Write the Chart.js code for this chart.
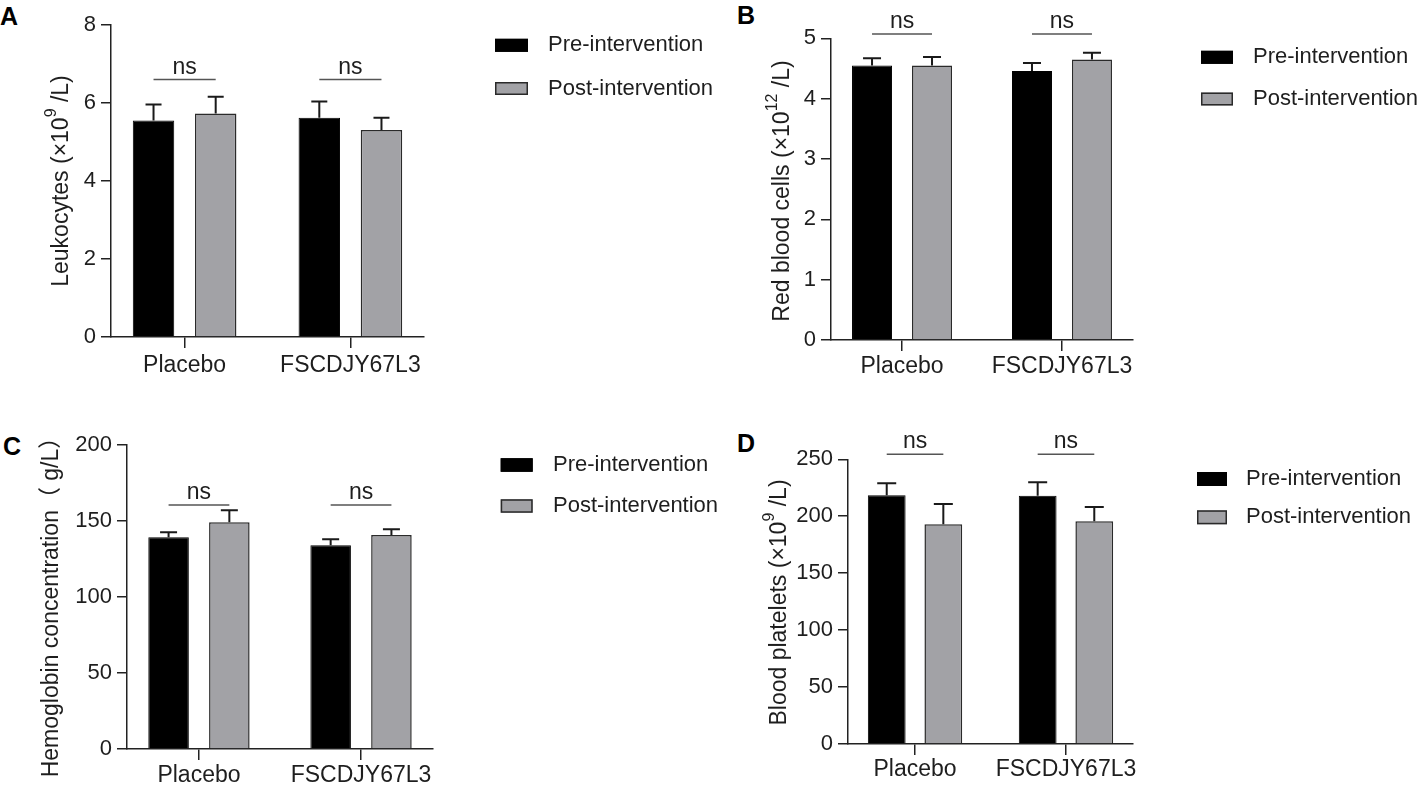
<!DOCTYPE html>
<html><head><meta charset="utf-8">
<script src="https://cdn.jsdelivr.net/npm/chart.js@4.4.1/dist/chart.umd.min.js"></script>
<style>
html,body{margin:0;padding:0;background:#fff;width:1418px;height:791px;overflow:hidden;}
canvas{position:absolute;}
.lt{position:absolute;font:bold 25px "Liberation Sans",Arial,sans-serif;line-height:25px;color:#000;}
</style></head><body>
<div class="lt" style="left:0px;top:4px">A</div>
<div class="lt" style="left:737px;top:3px">B</div>
<div class="lt" style="left:3px;top:434px">C</div>
<div class="lt" style="left:737px;top:431px">D</div>
<canvas id="cA" width="735" height="410" style="left:0px;top:0px"></canvas>
<canvas id="cB" width="683" height="410" style="left:735px;top:0px"></canvas>
<canvas id="cC" width="735" height="381" style="left:0px;top:410px"></canvas>
<canvas id="cD" width="683" height="381" style="left:735px;top:410px"></canvas>
<script>
// ---- data ----
const categories = ['Placebo', 'FSCDJY67L3'];
const seriesNames = ['Pre-intervention', 'Post-intervention'];

const leukoPre = [5.55, 5.62];
const leukoPreSD = [0.41, 0.42];
const leukoPost = [5.73, 5.31];
const leukoPostSD = [0.43, 0.31];
const leukoTicks = [0, 2, 4, 6, 8];

const rbcPre = [4.55, 4.46];
const rbcPreSD = [0.12, 0.13];
const rbcPost = [4.55, 4.65];
const rbcPostSD = [0.14, 0.11];
const rbcTicks = [0, 1, 2, 3, 4, 5];

const hbPre = [139.3, 134.0];
const hbPreSD = [3.3, 4.0];
const hbPost = [149.1, 140.8];
const hbPostSD = [7.9, 3.7];
const hbTicks = [0, 50, 100, 150, 200];

const pltPre = [218.4, 218.0];
const pltPreSD = [10.5, 11.8];
const pltPost = [192.9, 195.6];
const pltPostSD = [17.8, 12.5];
const pltTicks = [0, 50, 100, 150, 200, 250];

const yTitles = ['Leukocytes (×10⁹ /L)', 'Red blood cells (×10¹² /L)', 'Hemoglobin concentration（ g/L）', 'Blood platelets (×10⁹ /L)'];
const nsLabels = ['ns', 'ns'];
const nsLevels = [6.6, 5.07, 160.5, 254.5];

// ---- styling ----
const FONT = '"Liberation Sans", Arial, "Noto Sans CJK SC", sans-serif';
const TXT = '#1e1e1e';
const GRAY = '#a2a2a6';
const SUP = {'⁰':'0','¹':'1','²':'2','³':'3','⁴':'4','⁵':'5','⁶':'6','⁷':'7','⁸':'8','⁹':'9'};

function splitSup(text) {
  const segs = [];
  for (const ch of text) {
    const sup = ch in SUP;
    const c = sup ? SUP[ch] : ch;
    if (segs.length && segs[segs.length - 1].sup === sup) segs[segs.length - 1].t += c;
    else segs.push({t: c, sup});
  }
  return segs;
}

const annot = {
  id: 'annot',
  afterDatasetsDraw(chart, args, o) {
    const ctx = chart.ctx, ys = chart.scales.y;
    ctx.save();
    // error bars (upper only)
    chart.data.datasets.forEach((ds, d) => {
      const meta = chart.getDatasetMeta(d);
      meta.data.forEach((bar, i) => {
        const top = ys.getPixelForValue(ds.data[i] + ds.errors[i]);
        ctx.strokeStyle = '#1a1a1a';
        ctx.lineWidth = 2;
        ctx.beginPath();
        ctx.moveTo(bar.x, bar.y);
        ctx.lineTo(bar.x, top);
        ctx.moveTo(bar.x - o.cap / 2, top);
        ctx.lineTo(bar.x + o.cap / 2, top);
        ctx.stroke();
      });
    });
    // ns brackets
    const m0 = chart.getDatasetMeta(0), m1 = chart.getDatasetMeta(1);
    const ny = ys.getPixelForValue(o.ns);
    ctx.font = '23px ' + FONT;
    ctx.fillStyle = TXT;
    ctx.textAlign = 'center';
    ctx.textBaseline = 'alphabetic';
    for (let i = 0; i < categories.length; i++) {
      const x1 = m0.data[i].x, x2 = m1.data[i].x;
      ctx.strokeStyle = '#555';
      ctx.lineWidth = 1.5;
      ctx.beginPath();
      ctx.moveTo(x1, ny);
      ctx.lineTo(x2, ny);
      ctx.stroke();
      ctx.fillText(nsLabels[i], (x1 + x2) / 2, ny - 6);
    }
    ctx.restore();
  },
  afterDraw(chart, args, o) {
    const ctx = chart.ctx;
    ctx.save();
    // y axis title (with real superscripts)
    ctx.translate(o.titleX, o.titleY);
    ctx.rotate(-Math.PI / 2);
    ctx.fillStyle = TXT;
    ctx.textAlign = 'left';
    ctx.textBaseline = 'alphabetic';
    const segs = splitSup(o.title);
    const mainF = '23px ' + FONT, supF = '16px ' + FONT;
    let total = 0;
    segs.forEach(s => { ctx.font = s.sup ? supF : mainF; s.w = ctx.measureText(s.t).width; total += s.w; });
    let x = -total / 2;
    segs.forEach(s => {
      ctx.font = s.sup ? supF : mainF;
      ctx.fillText(s.t, x, s.sup ? -4 : 8);
      x += s.w;
    });
    ctx.restore();
    // legend
    ctx.save();
    const lg = o.legend;
    chart.data.datasets.forEach((ds, d) => {
      const cy = lg.rows[d];
      ctx.fillStyle = ds.backgroundColor;
      ctx.fillRect(lg.box, cy - lg.h / 2, lg.w, lg.h);
      ctx.strokeStyle = ds.borderColor;
      ctx.lineWidth = 1.5;
      ctx.strokeRect(lg.box + 0.75, cy - lg.h / 2 + 0.75, lg.w - 1.5, lg.h - 1.5);
      ctx.font = '22px ' + FONT;
      ctx.fillStyle = TXT;
      ctx.textAlign = 'left';
      ctx.textBaseline = 'middle';
      ctx.fillText(ds.label, lg.text, cy);
    });
    ctx.restore();
  }
};

const panels = [
  {id: 'cA', title: yTitles[0], pre: leukoPre, preSD: leukoPreSD, post: leukoPost, postSD: leukoPostSD, ticks: leukoTicks, ns: nsLevels[0],
   L: {top: 25, right: 311, yWidth: 111, xHeight: 73, xPad: 3.9, titleX: 59.5, titleY: 181, cap: 16,
       legend: {box: 495, w: 33, h: 13, rows: [45.3, 88.5], text: 548}}},
  {id: 'cB', title: yTitles[1], pre: rbcPre, preSD: rbcPreSD, post: rbcPost, postSD: rbcPostSD, ticks: rbcTicks, ns: nsLevels[1],
   L: {top: 38.3, right: 285, yWidth: 96, xHeight: 70, xPad: 2.2, titleX: 46, titleY: 191, cap: 18,
       legend: {box: 466, w: 32, h: 13, rows: [57.3, 99], text: 518}}},
  {id: 'cC', title: yTitles[2], pre: hbPre, preSD: hbPreSD, post: hbPost, postSD: hbPostSD, ticks: hbTicks, ns: nsLevels[2],
   L: {top: 35, right: 302, yWidth: 127, xHeight: 42, xPad: 2.2, titleX: 50, titleY: 191.5, cap: 17,
       legend: {box: 500.7, w: 32, h: 13.5, rows: [55, 96], text: 553}}},
  {id: 'cD', title: yTitles[3], pre: pltPre, preSD: pltPreSD, post: pltPost, postSD: pltPostSD, ticks: pltTicks, ns: nsLevels[3],
   L: {top: 49.3, right: 285, yWidth: 113, xHeight: 47, xPad: 0.5, titleX: 43, titleY: 192.5, cap: 19,
       legend: {box: 462, w: 30, h: 14, rows: [69, 107.3], text: 511}}}
];

function makeChart(p) {
  const L = p.L;
  const gridOpts = (tl) => ({display: true, drawOnChartArea: false, drawTicks: true, tickLength: tl, color: '#222', lineWidth: 1.5, offset: false});
  return new Chart(document.getElementById(p.id), {
    type: 'bar',
    data: {
      labels: categories.map((c, i) => i),
      datasets: [
        {label: seriesNames[0], data: p.pre, errors: p.preSD, backgroundColor: '#000000', borderColor: '#000000', borderWidth: 1},
        {label: seriesNames[1], data: p.post, errors: p.postSD, backgroundColor: GRAY, borderColor: '#2a2a2a', borderWidth: 1.5}
      ]
    },
    options: {
      responsive: false,
      animation: false,
      events: [],
      layout: {padding: {left: 0, top: L.top, right: L.right, bottom: 0}},
      datasets: {bar: {barPercentage: 0.667, categoryPercentage: 0.75}},
      scales: {
        x: {
          type: 'linear', offset: false, bounds: 'data', min: -0.444, max: 1.444,
          afterBuildTicks: s => { s.ticks = categories.map((c, i) => ({value: i})); },
          afterFit: s => { s.height = L.xHeight; },
          ticks: {callback: v => categories[v], autoSkip: false, maxRotation: 0, minRotation: 0, padding: L.xPad,
                  font: {family: FONT, size: 23}, color: TXT},
          grid: gridOpts(11),
          border: {display: true, color: '#222', width: 1.5}
        },
        y: {
          type: 'linear', min: 0, max: p.ticks[p.ticks.length - 1], bounds: 'data',
          afterBuildTicks: s => { s.ticks = p.ticks.map(v => ({value: v})); },
          afterFit: s => { s.width = L.yWidth; },
          ticks: {padding: 5, font: {family: FONT, size: 22}, color: TXT},
          grid: gridOpts(10),
          border: {display: true, color: '#222', width: 1.5}
        }
      },
      plugins: {
        legend: {display: false},
        tooltip: {enabled: false},
        annot: {ns: p.ns, cap: L.cap, title: p.title, titleX: L.titleX, titleY: L.titleY, legend: L.legend}
      }
    },
    plugins: [annot]
  });
}

panels.forEach(makeChart);
</script>
</body></html>
